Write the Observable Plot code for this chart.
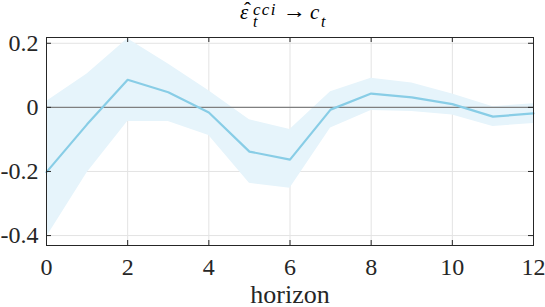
<!DOCTYPE html>
<html><head><meta charset="utf-8">
<script src="https://cdn.jsdelivr.net/npm/d3@7"></script>
<script src="https://cdn.jsdelivr.net/npm/@observablehq/plot@0.6"></script>
<style>
body{margin:0;background:#fff}
#wrap{position:relative;width:545px;height:307px;overflow:hidden}
#title{position:absolute;top:0;left:0;width:545px;height:34px;font-family:'Liberation Serif',serif;color:#000;z-index:2}
#title span{position:absolute;line-height:1;white-space:nowrap}
#title .it{font-style:italic}
</style></head><body>
<div id="wrap"><div id="title"><span class="it" style="left:240px;top:2px;font-size:21px">ε</span><span style="left:244px;top:0px;font-size:21px">ˆ</span><span class="it" style="left:253px;top:1px;font-size:17px;letter-spacing:1.3px">cci</span><span class="it" style="left:253px;top:14px;font-size:16px">t</span><span style="left:283px;top:1px;font-size:21px;transform:scaleX(1.1);transform-origin:0 50%">→</span><span class="it" style="left:310px;top:2px;font-size:21px">c</span><span class="it" style="left:321px;top:14px;font-size:16px">t</span></div></div>
<script>
const horizon = [0,1,2,3,4,5,6,7,8,9,10,11,12];
const irf   = [-0.202,-0.053,0.086,0.047,-0.016,-0.138,-0.163,-0.007,0.043,0.031,0.010,-0.029,-0.019];
const upper = [0.018,0.104,0.214,0.135,0.052,-0.039,-0.069,0.049,0.091,0.076,0.042,0.002,0.011];
const lower = [-0.405,-0.204,-0.044,-0.044,-0.088,-0.237,-0.252,-0.064,-0.010,-0.013,-0.024,-0.060,-0.050];
const xTicks = [0,2,4,6,8,10,12];
const yTicks = [-0.4,-0.2,0,0.2];
const yTickLabels = ["-0.4","-0.2","0","0.2"];
const xLabel = "horizon";

const data = horizon.map((h,i)=>({h, irf: irf[i], lo: lower[i], hi: upper[i]}));
const font = "Liberation Serif";
const W = 545, H = 307, mL = 46, mR = 12, mT = 37, mB = 62;
const fw = W - mL - mR, fh = H - mT - mB;

const chart = Plot.plot({
  width: W, height: H,
  marginLeft: mL, marginRight: mR, marginTop: mT, marginBottom: mB,
  style: {fontFamily: font, background: "transparent", overflow: "visible"},
  x: {domain: [0,12]},
  y: {domain: [-0.431, 0.218]},
  marks: [
    Plot.gridX(xTicks, {stroke: "#e3e3e3", strokeOpacity: 1, strokeWidth: 1}),
    Plot.gridY(yTicks, {stroke: "#e3e3e3", strokeOpacity: 1, strokeWidth: 1}),
    Plot.areaY(data, {x: "h", y1: "lo", y2: "hi", fill: "#e6f4fb", fillOpacity: 1}),
    Plot.ruleY([0], {stroke: "#7f7f7f", strokeWidth: 1.3}),
    Plot.line(data, {x: "h", y: "irf", stroke: "#88cde6", strokeWidth: 2.2}),
    Plot.axisX(xTicks, {tickSize: 0, tickPadding: 12, fontSize: 24, fontFamily: font, tickFormat: d => String(d), label: null, color: "#262626"}),
    Plot.axisY(yTicks, {tickSize: 0, tickPadding: 8, fontSize: 24, fontFamily: font, tickFormat: d => yTickLabels[yTicks.indexOf(d)], label: null, color: "#262626"}),
    Plot.tickX(xTicks, {x: d => d, insetTop: fh - 5, stroke: "#262626"}),
    Plot.tickX(xTicks, {x: d => d, insetBottom: fh - 5, stroke: "#262626"}),
    Plot.tickY(yTicks, {y: d => d, insetRight: fw - 5, stroke: "#262626"}),
    Plot.tickY(yTicks, {y: d => d, insetLeft: fw - 5, stroke: "#262626"}),
    Plot.frame({stroke: "#262626", strokeWidth: 1}),
    Plot.text([xLabel], {frameAnchor: "bottom", dy: 49, lineAnchor: "middle", fontSize: 26, fill: "#262626", fontFamily: font})
  ]
});
document.getElementById("wrap").appendChild(chart);
</script>
</body></html>
